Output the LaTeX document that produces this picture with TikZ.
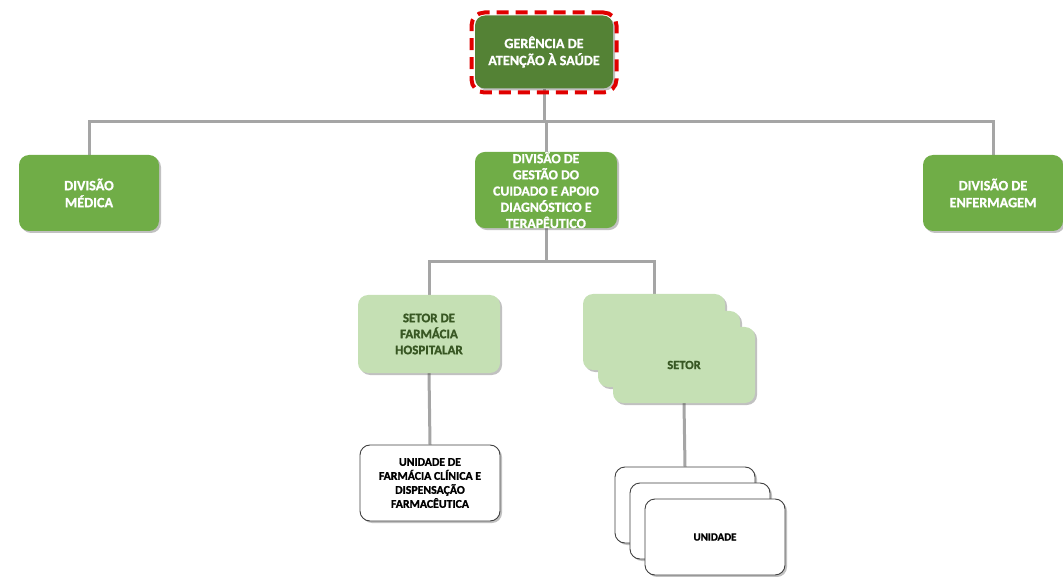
\documentclass[tikz,border=0pt]{standalone}
\usepackage{fontspec}
\setmainfont{Carlito}[BoldFeatures={FakeBold=1.2}]
\usetikzlibrary{shadows,backgrounds}
\definecolor{darkg}{HTML}{548235}
\definecolor{midg}{HTML}{70AD47}
\definecolor{lightg}{HTML}{C5E0B4}
\definecolor{txtg}{HTML}{385723}
\definecolor{conn}{HTML}{A5A5A5}
\definecolor{redd}{HTML}{E00000}
\tikzset{
  box/.style={rectangle, rounded corners=10pt, align=center,
    inner sep=0pt, drop shadow={shadow xshift=2pt, shadow yshift=-2pt, opacity=0.35, fill=black!70}},
  topbox/.style={box, fill=darkg, text=white, minimum width=138pt, minimum height=73pt, font=\fontsize{14.2}{17}\selectfont\bfseries},
  divbox/.style={box, fill=midg, text=white, minimum width=140pt, minimum height=76pt, font=\fontsize{14.2}{17}\selectfont\bfseries},
  setbox/.style={box, fill=lightg, text=txtg, minimum width=142pt, minimum height=76pt, font=\fontsize{13}{16}\selectfont\bfseries},
  unibox/.style={box, fill=white, draw=black!75, line width=0.9pt, text=black, minimum width=140pt, minimum height=76pt, font=\fontsize{11}{14}\selectfont\bfseries},
  frame/.style={rectangle, rounded corners=13pt, draw=redd, line width=4pt, dash pattern=on 12pt off 7pt, minimum width=145pt, minimum height=80pt},
  link/.style={draw=conn, line width=3pt}
}
\begin{document}
\begin{tikzpicture}[x=1pt,y=-1pt]
\useasboundingbox (0,0) rectangle (1063,577);
% top
\node[topbox] (top) at (544,52) {GERÊNCIA DE\\ATENÇÃO À SAÚDE};
\node[frame] (topframe) at (544,52.5) {};
% divisions
\node[divbox] (left) at (89,193) {DIVISÃO\\MÉDICA};
\node[divbox, minimum width=142pt, font=\fontsize{13.8}{16.2}\selectfont\bfseries] (mid) at (546,190) {DIVISÃO DE\\GESTÃO DO\\CUIDADO E APOIO\\DIAGNÓSTICO E\\TERAPÊUTICO};
\node[divbox] (right) at (993,193) {DIVISÃO DE\\ENFERMAGEM};
% sectors
\node[setbox, minimum height=78pt] (farm) at (429,334) {SETOR DE\\FARMÁCIA\\HOSPITALAR};
\node[setbox] (setA) at (654,332) {};
\node[setbox] (setB) at (669,349) {};
\node[setbox, font=\fontsize{12.5}{16}\selectfont\bfseries] (setC) at (684,365) {SETOR};
% units
\node[unibox, font=\fontsize{11.8}{14}\selectfont\bfseries] (uf) at (430,483) {UNIDADE DE\\FARMÁCIA CLÍNICA E\\DISPENSAÇÃO\\FARMACÊUTICA};
\node[unibox] (uA) at (685,505) {};
\node[unibox] (uB) at (700,521) {};
\node[unibox] (uC) at (715,537) {UNIDADE};
% connectors
\begin{pgfonlayer}{background}
\coordinate (bus1) at (544,122);
\coordinate (bus2) at (546,262);
\draw[link] (top.south) -- (bus1);
\draw[link] (bus1) -| (left.north);
\draw[link] (bus1) -| (right.north);
\draw[link] (bus1) -| (mid.north);
\draw[link] (mid.south) -- (bus2);
\draw[link] (bus2) -| (farm.north);
\draw[link] (bus2) -| (setA.north);
\draw[link] (farm.south) -- (uf.north);
\draw[link] (setC.south) -- (uA.north);
\end{pgfonlayer}
\end{tikzpicture}
\end{document}
